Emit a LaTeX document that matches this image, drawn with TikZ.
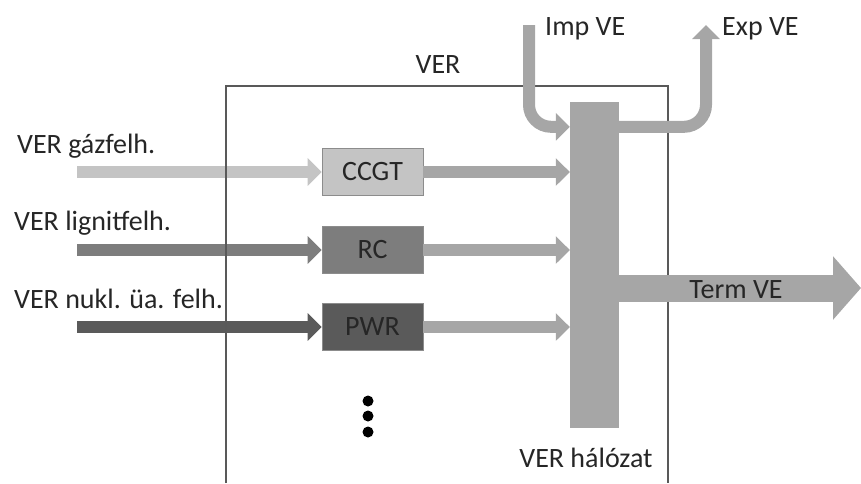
\documentclass[tikz,border=0pt]{standalone}
\usepackage{fontspec}
\setmainfont{Carlito}
\usetikzlibrary{arrows.meta}
\definecolor{g1}{HTML}{C4C4C4}
\definecolor{g2}{HTML}{7D7D7D}
\definecolor{g3}{HTML}{5A5A5A}
\definecolor{g4}{HTML}{A6A6A6}
\definecolor{txt}{HTML}{262626}
\begin{document}
\begin{tikzpicture}[
  x=1pt, y=-1pt,
  font=\fontsize{28}{33}\selectfont, text=txt,
  unit/.style={draw=black!45, line width=0.8pt, minimum width=101pt, minimum height=47pt,
               inner sep=0pt, align=center},
  flow/.style={line width=12pt, -{Triangle[width=27pt,length=14pt]}},
  bigflow/.style={line width=27pt, -{Triangle[width=62pt,length=28pt]}},
  lbl/.style={anchor=base west, inner sep=0pt}
]
  \useasboundingbox (0,0) rectangle (861,483);
  % Units
  \node[unit, fill=g1] (ccgt) at (372.5,172) {CCGT};
  \node[unit, fill=g2] (rc)   at (372.5,250) {RC};
  \node[unit, fill=g3] (pwr)  at (372.5,327) {PWR};
  % Network bar
  \node[fill=g4, inner sep=0pt, minimum width=49pt, minimum height=326pt] (net) at (594.5,265) {};
  \node[anchor=base, inner sep=0pt] (netlbl) at (586,467) {VER hálózat};
  % Inputs
  \node[lbl] (gaslbl) at (17,153) {VER gázfelh.};
  \node[lbl] (liglbl) at (14,230) {VER lignitfelh.};
  \node[lbl] (nuklbl) at (14,308) {VER nukl. üa. felh.};
  \coordinate (gasin) at (77,172);
  \coordinate (ligin) at (77,250);
  \coordinate (nukin) at (77,327);
  \draw[flow, g1] (gasin) -- (ccgt);
  \draw[flow, g2] (ligin) -- (rc);
  \draw[flow, g3] (nukin) -- (pwr);
  % VER frame
  \draw[black!65, line width=1.6pt] (226,483) |- (668,86) -- (668,483);
  \node[anchor=base, inner sep=0pt] (verlbl) at (438,73) {VER};
  % Unit outputs
  \draw[flow, g4] (ccgt) -- (net.west |- ccgt);
  \draw[flow, g4] (rc)   -- (net.west |- rc);
  \draw[flow, g4] (pwr)  -- (net.west |- pwr);
  % Import / export
  \coordinate (imptop) at (529,25);
  \coordinate (exptop) at (706,25);
  \draw[flow, g4, rounded corners=22pt] (imptop) |- ([yshift=-25pt]net.north west);
  \draw[flow, g4, rounded corners=22pt] ([yshift=-25pt]net.north east) -| (exptop);
  \node[anchor=base west, inner sep=0pt] (implbl) at (545,35) {Imp VE};
  \node[anchor=base west, inner sep=0pt] (explbl) at (722,35) {Exp VE};
  % Final use
  \coordinate (termend) at (861,288);
  \draw[bigflow, g4] ([yshift=-23pt]net.east) -- (termend);
  \node[inner sep=0pt] (termlbl) at (736,290) {Term VE};
  % More units
  \foreach \y in {401,416,432}
    \fill[black] (368,\y) circle (5.5pt);
\end{tikzpicture}
\end{document}
